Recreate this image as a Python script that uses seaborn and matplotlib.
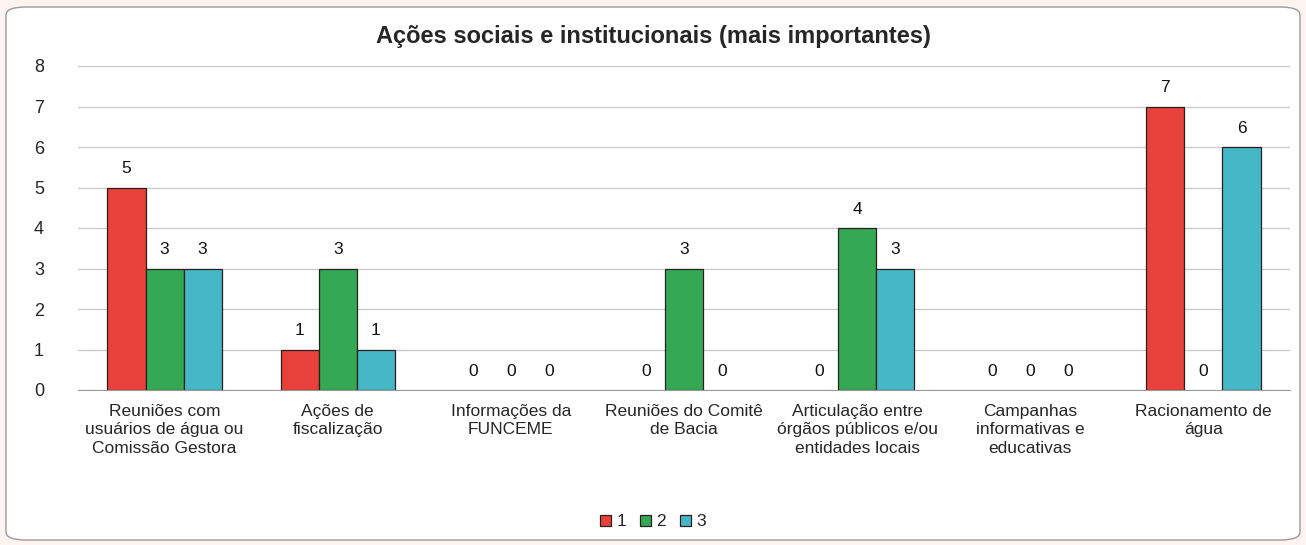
import numpy as np
import pandas as pd
import matplotlib
matplotlib.use("Agg")
import matplotlib.pyplot as plt
import seaborn as sns
from matplotlib.patches import FancyBboxPatch

# dados
categorias = [
    "Reuniões com\nusuários de água ou\nComissão Gestora",
    "Ações de\nfiscalização",
    "Informações da\nFUNCEME",
    "Reuniões do Comitê\nde Bacia",
    "Articulação entre\nórgãos públicos e/ou\nentidades locais",
    "Campanhas\ninformativas e\neducativas",
    "Racionamento de\nágua",
]
serie_1 = [5, 1, 0, 0, 0, 0, 7]
serie_2 = [3, 3, 0, 3, 4, 0, 0]
serie_3 = [3, 1, 0, 0, 3, 0, 6]
series = ["1", "2", "3"]
cores = ["#e8403a", "#35a853", "#45b8c8"]

df = pd.DataFrame({
    "categoria": categorias * 3,
    "valor": serie_1 + serie_2 + serie_3,
    "serie": [s for s in series for _ in categorias],
})

sns.set_style("white")
plt.rcParams["font.family"] = ["Liberation Sans", "DejaVu Sans"]

fig = plt.figure(figsize=(13.06, 5.45), dpi=100)
fig.patch.set_facecolor("#fdf4f1")

# moldura arredondada (atras dos eixos)
moldura = FancyBboxPatch((6 / 1306, 5 / 545), 1294 / 1306, 533 / 545,
                         boxstyle="round,pad=0,rounding_size=0.015",
                         transform=fig.transFigure, facecolor="white",
                         edgecolor="#9a9a9a", linewidth=1.0, zorder=-10)
fig.add_artist(moldura)

ax = fig.add_axes([78 / 1306, 1 - 390 / 545, 1212 / 1306, 324 / 545])
ax.set_facecolor("none")

sns.barplot(data=df, x="categoria", y="valor", hue="serie", palette=cores,
            saturation=1, width=0.66, edgecolor="#2a1f1f", linewidth=0.9,
            ax=ax, legend=True)

for cont in ax.containers:
    # barras de altura zero sem contorno
    for barra in cont:
        if barra.get_height() == 0:
            barra.set_linewidth(0)
    ax.bar_label(cont, fmt="%d", padding=8, fontsize=12.5, color="#111111")

ax.set_ylim(0, 8)
ax.set_yticks(range(0, 9))
ax.yaxis.grid(True, color="#c8c8c8", linewidth=0.9)
ax.set_axisbelow(True)
for lado in ["top", "right", "left"]:
    ax.spines[lado].set_visible(False)
ax.spines["bottom"].set_color("#9a9a9a")
ax.tick_params(axis="y", length=0, labelsize=13, pad=28)
ax.tick_params(axis="x", length=0, labelsize=12.5, pad=10)
ax.set_xticks(range(len(categorias)))
ax.set_xticklabels(categorias, linespacing=1.3)
for t in ax.get_yticklabels():
    t.set_horizontalalignment("center")
ax.set_xlabel("")
ax.set_ylabel("")
ax.set_xlim(-0.5, len(categorias) - 0.5)

fig.text(0.5, 1 - 37 / 545, "Ações sociais e institucionais (mais importantes)",
         ha="center", va="center", fontsize=17, fontweight="bold")

ax.legend(loc="center", bbox_to_anchor=(0.5, (545 - 522) / 545), bbox_transform=fig.transFigure,
          ncol=3, frameon=False, fontsize=12.5, handlelength=0.65, handleheight=0.65,
          handletextpad=0.3, columnspacing=0.8)

fig.savefig("out.png", dpi=100, facecolor=fig.get_facecolor())
